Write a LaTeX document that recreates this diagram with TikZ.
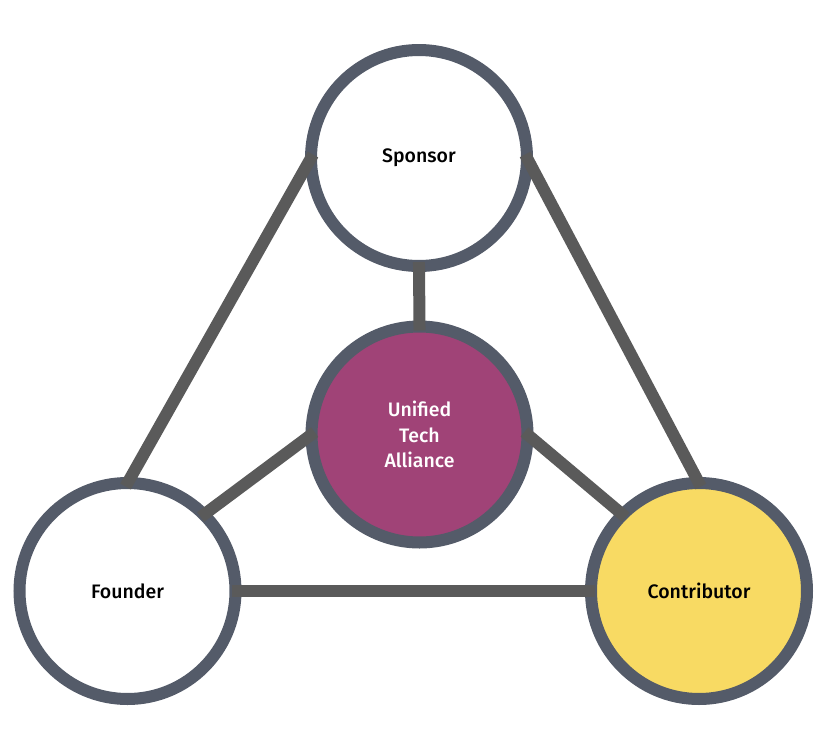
\documentclass[tikz,border=0pt]{standalone}
\usepackage{fontspec}
\setmainfont{Fira Sans}[UprightFont=* Medium]
\definecolor{ringc}{HTML}{545B69}
\definecolor{linkc}{HTML}{5A5A5A}
\definecolor{purplec}{HTML}{A04377}
\definecolor{yellowc}{HTML}{F8DA63}
\tikzset{
  role/.style={circle, draw=ringc, line width=12pt, minimum size=216pt, inner sep=0pt, outer sep=0pt, fill=white, font=\fontsize{19.5}{23}\selectfont, align=center},
  link/.style={draw=linkc, line width=12pt, shorten <=-4pt, shorten >=-4pt}
}
\begin{document}
\begin{tikzpicture}[x=1pt,y=-1pt]
\useasboundingbox (0,0) rectangle (823,737);
\node[role] (sponsor) at (419,158) {Sponsor};
\node[role, fill=purplec, text=white, font=\fontsize{19.5}{25.5}\selectfont] (uta) at (419.5,434.5) {Unified\\Tech\\Alliance};
\node[role] (founder) at (127.5,591) {Founder};
\node[role, fill=yellowc] (contrib) at (699,591) {Contributor};
\draw[link] (founder.north) -- (sponsor.west);
\draw[link] (contrib.north) -- (sponsor.east);
\draw[link] (founder.east) -- (contrib.west);
\draw[link] (sponsor.south) -- (uta.north);
\draw[link] (founder.north east) -- (uta.west);
\draw[link] (uta.east) -- (contrib.north west);
\end{tikzpicture}
\end{document}
